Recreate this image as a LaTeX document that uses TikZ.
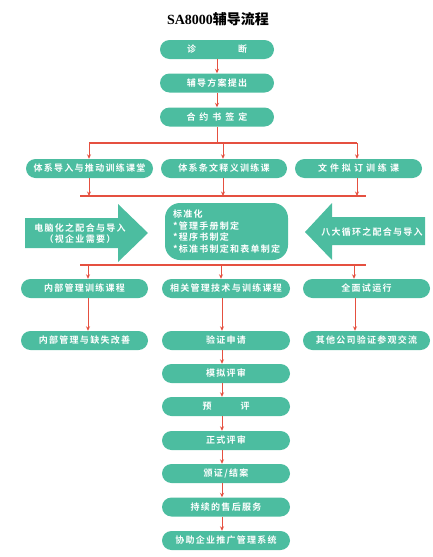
\documentclass[tikz,border=0pt]{standalone}
\usepackage{fontspec}
\usetikzlibrary{arrows.meta}
\setmainfont{Liberation Serif}
\newfontfamily\cjkbox{Noto Sans CJK SC}[LetterSpace=14,BoldFont={Noto Sans CJK SC Bold}]
\newfontfamily\cjktitle{Noto Sans CJK SC Bold}
\definecolor{boxgreen}{RGB}{76,189,160}
\definecolor{linkred}{RGB}{229,80,64}
\newcommand{\gap}[1]{\hspace{#1pt}}
\begin{document}
\begin{tikzpicture}[x=1pt,y=-1pt,
  box/.style={fill=boxgreen,rounded corners=9.5pt,minimum height=19pt,inner sep=0pt,
    text=white,font=\cjkbox\bfseries\fontsize{9}{11.7}\selectfont},
  link/.style={draw=linkred,line width=1pt,-{Stealth[length=4.5pt,width=4pt]}},
  bar/.style={draw=linkred,line width=1.6pt}]
\useasboundingbox (0,0) rectangle (433,557);

\node (title) at (218,19) {\fontsize{14}{16}\selectfont\bfseries SA8000{\cjktitle 辅导流程}};

% top chain
\node [box,minimum width=114pt] (zd) at (217,49.5) {诊\gap{42}断};
\node [box,minimum width=114pt] (fd) at (217,83) {辅导方案提出};
\node [box,minimum width=114pt] (hy) at (217,117) {合\gap{4}约\gap{4}书\gap{4}签\gap{4}定};
\draw [link] (zd) -- (fd);
\draw [link] (fd) -- (hy);

% training row
\node [box,minimum width=127pt] (tx) at (89.5,168.5) {体系导入与推动训练课堂};
\node [box,minimum width=126pt] (tw) at (224,168.5) {体系条文释义训练课};
\node [box,minimum width=127pt] (wj) at (358.5,168.5) {文\gap{3}件\gap{3}拟\gap{3}订\gap{3}训\gap{3}练\gap{3}课};

\coordinate (b1) at (217,143);
\coordinate (b1l) at (89,143);
\coordinate (b1m) at (223,143);
\coordinate (b1r) at (357,143);
\draw [draw=linkred,line width=1pt] (hy) -- (b1);
\draw [bar] (b1l) -- (b1r);
\draw [link] (b1l) -- (b1l |- tx.north);
\draw [link] (b1m) -- (b1m |- tw.north);
\draw [link] (b1r) -- (b1r |- wj.north);

\coordinate (b2l) at (89,196);
\coordinate (b2m) at (223,196);
\coordinate (b2r) at (357,196);
\draw [bar] (80,196) -- (366,196);
\draw [link] (b2l |- tx.south) -- (b2l);
\draw [link] (b2m |- tw.south) -- (b2m);
\draw [link] (b2r |- wj.south) -- (b2r);

% standardization block
\fill [boxgreen] (25,218) -- (118,218) -- (118,204) -- (148,233) -- (118,262) -- (118,248) -- (25,248) -- cycle;
\node [text=white,font=\cjkbox\bfseries\fontsize{9}{11}\selectfont,align=center] (pc) at (80,233.5)
  {电脑化之配合与导入\\（视企业需要）};
\node [box,rounded corners=15pt,minimum width=123pt,minimum height=57pt,text width=107pt,align=left] (std) at (226.5,231.5)
  {标准化\\{}*管理手册制定\\{}*程序书制定\\{}*标准书制定和表单制定};
\fill [boxgreen] (425,217) -- (332,217) -- (332,203) -- (305,232) -- (332,260) -- (332,245) -- (425,245) -- cycle;
\node [text=white,font=\cjkbox\bfseries\fontsize{9}{11}\selectfont] (bd) at (372,232) {八大循环之配合与导入};

% implementation rows
\node [box,minimum width=127pt] (nb) at (84.5,288.5) {内部管理训练课程};
\node [box,minimum width=128pt] (xg) at (226,288.5) {相关管理技术与训练课程};
\node [box,minimum width=127pt] (qm) at (366.5,288.5) {全面试运行};

\coordinate (b3l) at (88,265);
\coordinate (b3m) at (221,265);
\coordinate (b3r) at (354,265);
\draw [bar] (80,265) -- (366,265);
\draw [link] (b3l) -- (b3l |- nb.north);
\draw [link] (b3m) -- (b3m |- xg.north);
\draw [link] (b3r) -- (b3r |- qm.north);

\node [box,minimum width=127pt] (ng) at (84.5,340.5) {内部管理与缺失改善};
\node [box,minimum width=128pt] (yz) at (226,340.5) {验证申请};
\node [box,minimum width=127pt] (qt) at (366.5,340.5) {其他公司验证参观交流};

\coordinate (cl) at (88,0);
\coordinate (cm) at (222,0);
\coordinate (cr) at (355,0);
\draw [link] (cl |- nb.south) -- (cl |- ng.north);
\draw [link] (cm |- xg.south) -- (cm |- yz.north);
\draw [link] (cr |- qm.south) -- (cr |- qt.north);

% certification chain
\node [box,minimum width=128pt] (mn) at (226,373.5) {模拟评审};
\node [box,minimum width=128pt] (yp) at (226,406.5) {预\gap{29}评};
\node [box,minimum width=128pt] (zs) at (226,440.5) {正式评审};
\node [box,minimum width=128pt] (bz) at (226,473.5) {颁证/结案};
\node [box,minimum width=128pt] (cx) at (226,507) {持续的售后服务};
\node [box,minimum width=128pt] (xz) at (226,540.5) {协助企业推广管理系统};
\foreach \a/\b in {yz/mn,mn/yp,yp/zs,zs/bz,bz/cx,cx/xz}{
\draw [link] (cm |- \a.south) -- (cm |- \b.north);
}
\end{tikzpicture}
\end{document}
